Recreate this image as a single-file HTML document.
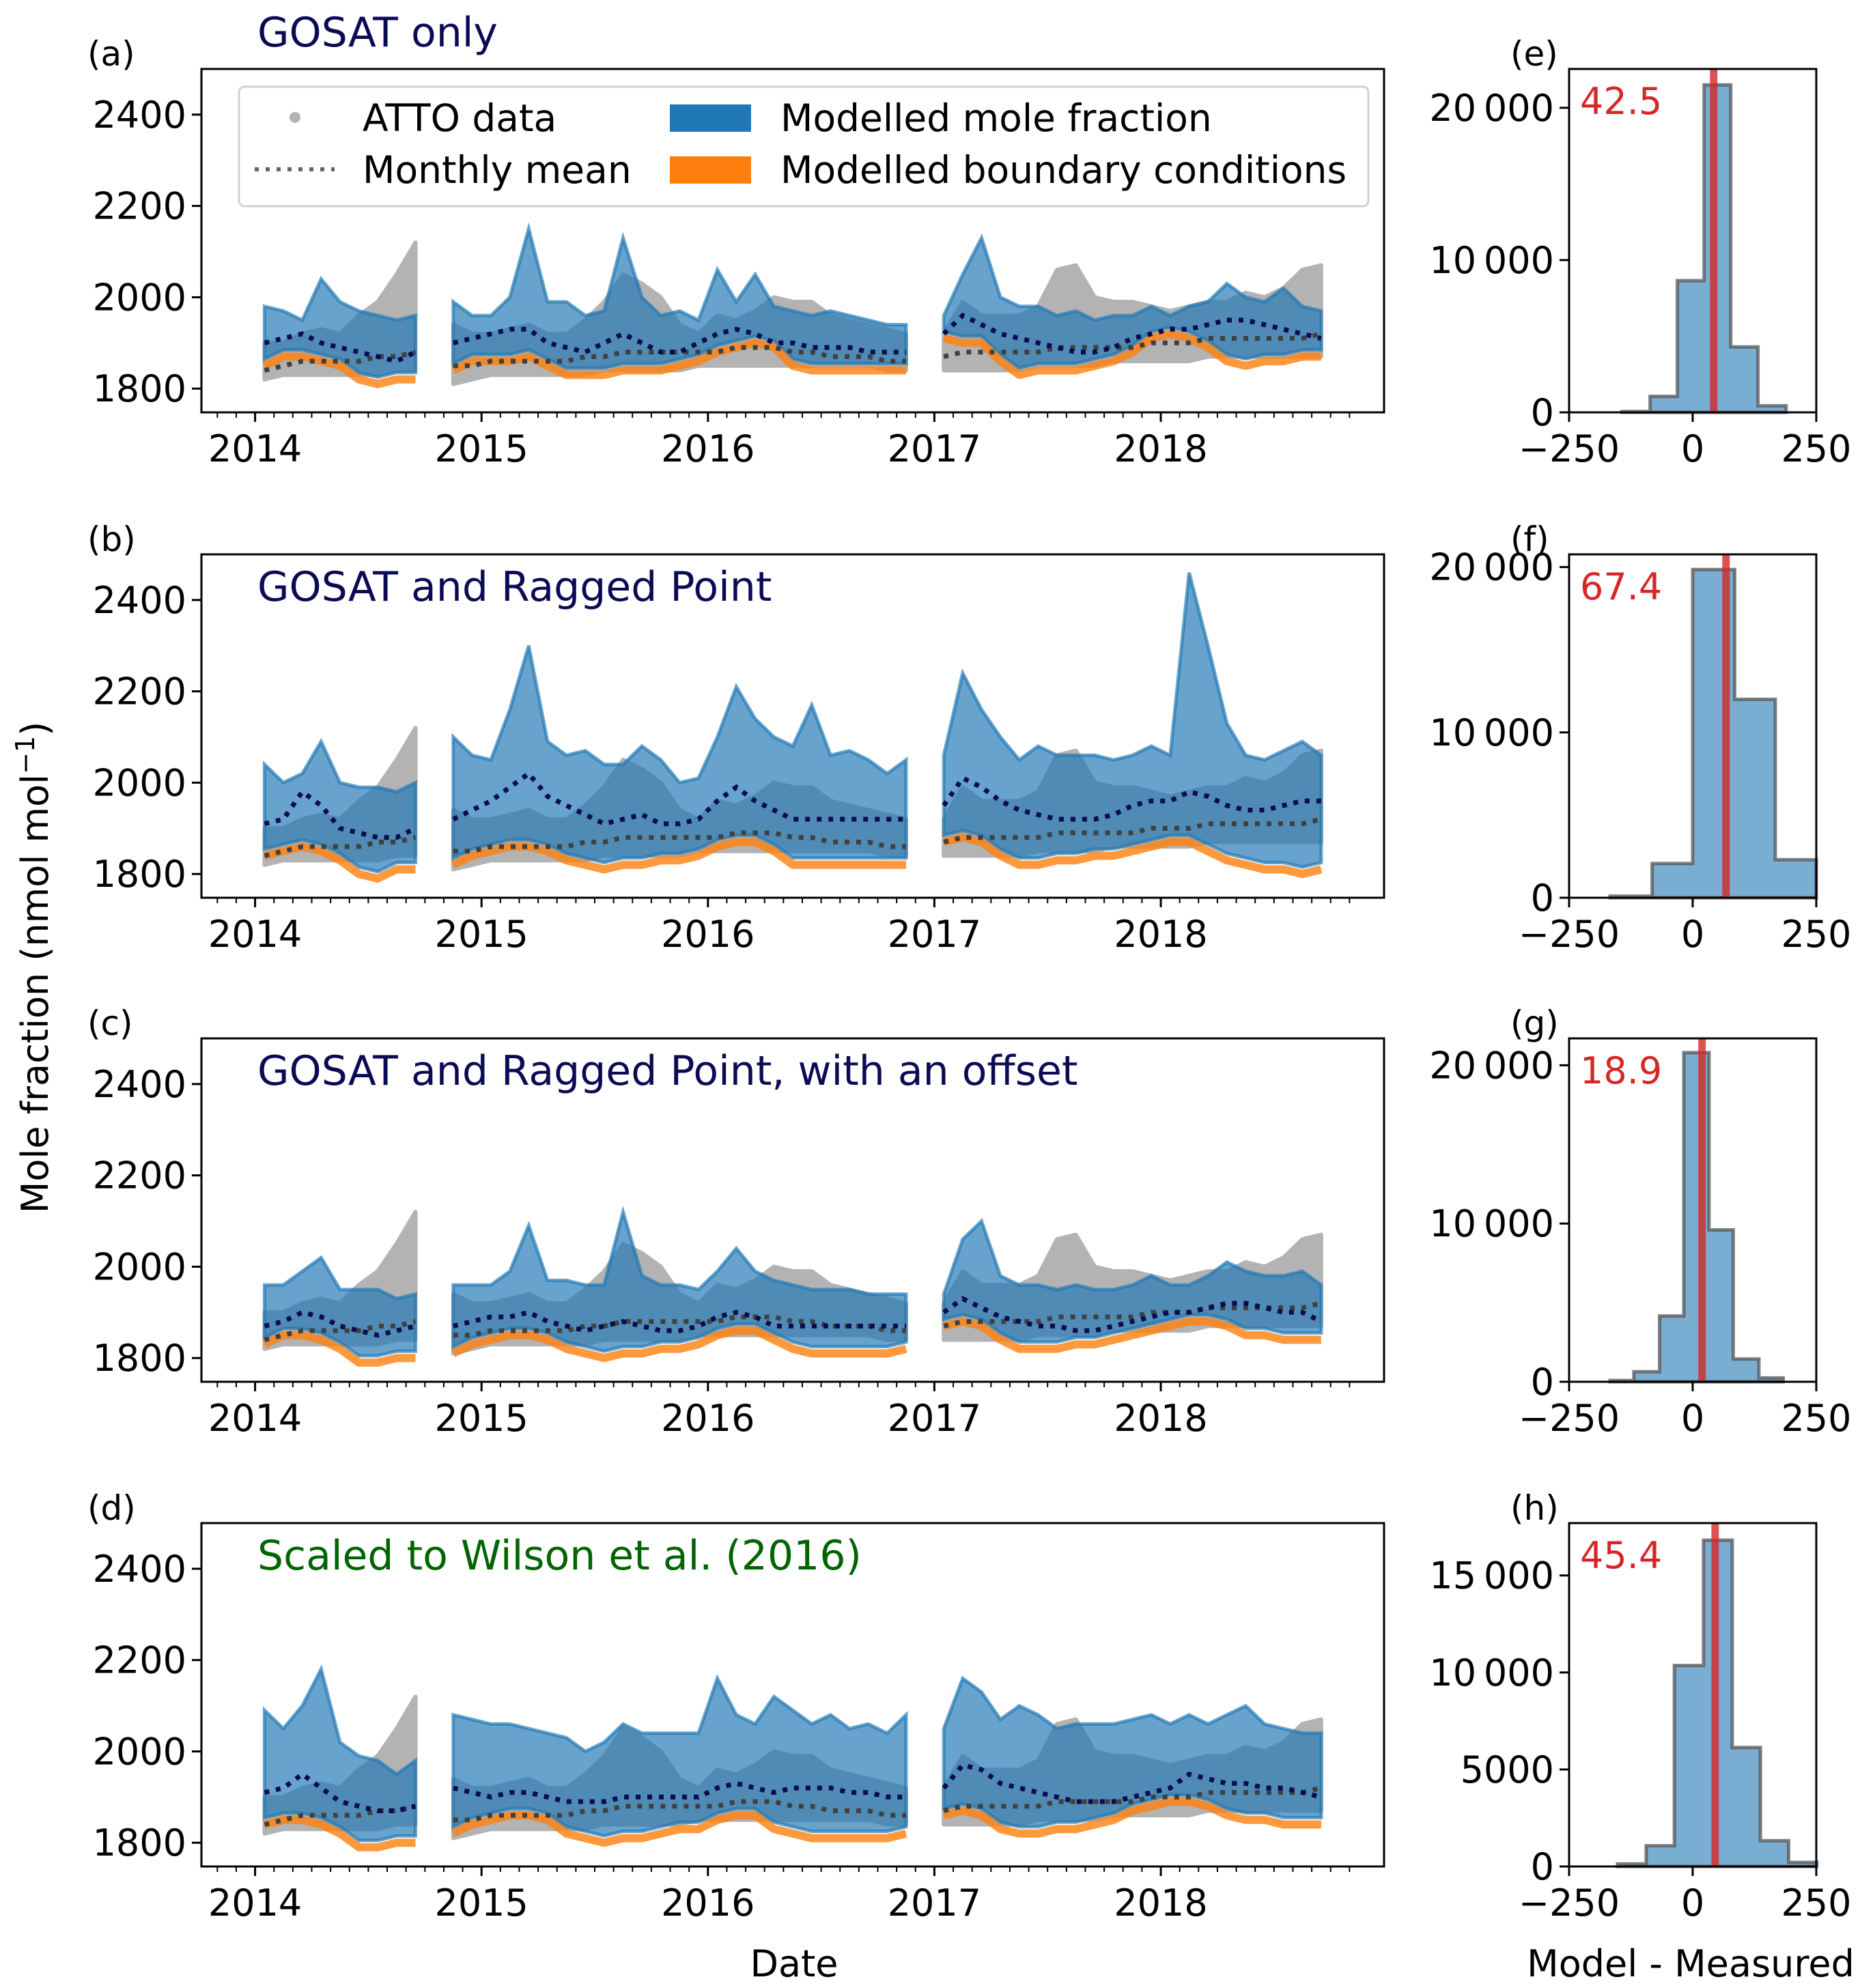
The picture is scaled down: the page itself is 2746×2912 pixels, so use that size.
<!DOCTYPE html>
<html><head><meta charset="utf-8">
<style>
html,body{margin:0;padding:0;background:#fff;}
svg{display:block;font-family:"DejaVu Sans","Liberation Sans",sans-serif;}
</style></head>
<body>
<svg id="fig" width="2746" height="2912" viewBox="0 0 2746 2912" xmlns="http://www.w3.org/2000/svg">
<rect width="2746" height="2912" fill="#fff"/>
<g id="root"></g>
<text x="70" y="1417" font-size="54" text-anchor="middle" transform="rotate(-90 70 1417)">Mole fraction (nmol mol<tspan dy="-20" font-size="38">−1</tspan><tspan dy="20">)</tspan></text>
<text x="1163" y="2895" font-size="54" text-anchor="middle">Date</text>
<text x="2476" y="2895" font-size="54" text-anchor="middle">Model - Measured</text>
</svg>
<script>
// ---- shared data (monthly, Jan 2014 .. Sep 2018; null = gap) ----
const obsHigh=[1900,1900,1920,1930,1920,1960,1990,2050,2120,null,1940,1920,
1920,1930,1940,1920,1920,1950,1990,2050,2030,2000,1940,1920,
1960,1950,1970,2000,1990,1990,1960,1950,1940,1930,1920,null,
1920,1990,1960,1960,1960,1980,2060,2070,2000,1990,1990,1980,
1970,1980,1990,1990,2010,2000,2020,2060,2070];
const obsLow=[1820,1830,1830,1830,1830,1830,1830,1840,1840,null,1810,1820,
1830,1830,1830,1830,1830,1830,1840,1840,1840,1840,1840,1850,
1850,1850,1850,1850,1850,1850,1850,1850,1850,1840,1840,null,
1840,1840,1840,1840,1840,1850,1850,1850,1850,1860,1860,1860,
1860,1860,1870,1870,1870,1870,1870,1870,1870];
const obsMean=[1840,1850,1860,1860,1860,1860,1870,1870,1880,null,1850,1850,
1860,1860,1860,1860,1860,1870,1870,1880,1880,1880,1880,1880,
1880,1890,1890,1890,1880,1880,1870,1870,1870,1860,1860,null,
1870,1880,1880,1880,1880,1880,1890,1890,1890,1890,1890,1900,
1900,1900,1910,1910,1910,1910,1910,1910,1920];
// ---- panel (a) GOSAT only ----
const highA=[1980,1970,1950,2040,1990,1970,1960,1950,1960,null,1990,1960,
1960,2000,2150,1990,1990,1960,1970,2130,2000,1960,1970,1950,
2060,1990,2050,1980,1970,1960,1970,1960,1950,1940,1940,null,
1960,2050,2130,2000,1980,1980,1960,1970,1950,1960,1960,1980,
1960,1980,1990,2030,2000,1990,2020,1980,1970];
const bcA=[1850,1870,1870,1860,1850,1820,1810,1820,1820,null,1840,1860,
1860,1860,1870,1850,1830,1830,1830,1840,1840,1840,1850,1860,
1880,1890,1900,1890,1850,1840,1840,1840,1840,1840,1840,null,
1910,1900,1900,1860,1830,1840,1840,1840,1850,1860,1880,1910,
1920,1910,1890,1860,1850,1860,1860,1870,1870];
const meanA=[1900,1910,1920,1900,1890,1880,1870,1860,1880,null,1900,1910,
1920,1930,1930,1900,1890,1880,1900,1920,1900,1880,1880,1900,
1920,1930,1920,1900,1900,1890,1890,1890,1880,1880,1880,null,
1920,1960,1940,1920,1910,1900,1890,1880,1880,1890,1910,1920,
1930,1930,1940,1950,1950,1940,1930,1920,1910];
// ---- panel (b) GOSAT and Ragged Point ----
const highB=[2040,2000,2020,2090,2000,1990,1990,1980,2000,null,2100,2060,
2050,2160,2300,2090,2060,2070,2040,2040,2080,2050,2000,2010,
2100,2210,2140,2100,2080,2170,2060,2070,2050,2020,2050,null,
2060,2240,2160,2100,2050,2080,2060,2060,2060,2050,2060,2080,
2060,2460,2300,2130,2060,2050,2070,2090,2060];
const bcB=[1840,1850,1860,1850,1830,1800,1790,1810,1810,null,1820,1840,
1850,1860,1860,1850,1830,1820,1810,1820,1820,1830,1830,1840,
1860,1870,1870,1850,1820,1820,1820,1820,1820,1820,1820,null,
1870,1880,1870,1840,1820,1820,1830,1830,1840,1840,1850,1860,
1870,1870,1850,1830,1820,1810,1810,1800,1810];
const meanB=[1910,1920,1980,1950,1900,1890,1880,1880,1900,null,1920,1940,
1960,1990,2020,1970,1950,1930,1910,1920,1930,1910,1910,1920,
1960,1990,1960,1940,1920,1920,1920,1920,1920,1920,1920,null,
1950,2010,1990,1960,1940,1930,1920,1920,1920,1930,1950,1960,
1960,1980,1970,1950,1940,1940,1950,1960,1960];
// ---- panel (c) with an offset ----
const highC=[1960,1960,1990,2020,1950,1950,1950,1930,1940,null,1960,1960,
1960,1990,2090,1970,1970,1960,1960,2120,1980,1960,1960,1950,
1990,2040,1990,1970,1960,1950,1950,1950,1940,1940,1940,null,
1940,2060,2100,1980,1960,1960,1950,1960,1950,1950,1960,1980,
1960,1960,1980,2010,1990,1980,1980,1990,1960];
const bcC=[1830,1850,1850,1840,1820,1790,1790,1800,1800,null,1810,1830,
1840,1850,1850,1840,1820,1810,1800,1810,1810,1820,1820,1830,
1850,1860,1860,1840,1820,1810,1810,1810,1810,1810,1820,null,
1870,1880,1870,1840,1820,1820,1820,1830,1830,1840,1850,1860,
1870,1880,1880,1870,1850,1850,1840,1840,1840];
const meanC=[1870,1880,1900,1890,1870,1860,1850,1860,1870,null,1870,1880,
1890,1890,1900,1880,1870,1860,1870,1880,1870,1860,1860,1870,
1890,1900,1890,1870,1870,1870,1870,1870,1870,1870,1870,null,
1900,1930,1910,1890,1880,1870,1870,1860,1860,1870,1880,1890,
1900,1900,1910,1920,1920,1910,1900,1900,1880];
// ---- panel (d) Scaled to Wilson ----
const highD=[2090,2050,2100,2180,2020,1990,1980,1950,1980,null,2080,2070,
2060,2060,2050,2040,2030,2000,2020,2060,2040,2040,2040,2040,
2160,2080,2060,2120,2090,2060,2080,2050,2060,2040,2080,null,
2050,2160,2130,2070,2100,2080,2050,2060,2060,2060,2070,2080,
2060,2080,2060,2080,2100,2060,2050,2040,2040];
const bcD=[1840,1850,1850,1840,1820,1790,1790,1800,1800,null,1820,1840,
1850,1860,1860,1850,1820,1810,1800,1810,1810,1820,1830,1830,
1850,1860,1860,1830,1820,1810,1810,1810,1810,1810,1820,null,
1860,1870,1860,1830,1820,1820,1830,1830,1840,1850,1870,1880,
1890,1890,1880,1860,1850,1850,1840,1840,1840];
const meanD=[1910,1920,1950,1920,1890,1880,1870,1870,1880,null,1920,1910,
1900,1910,1910,1900,1890,1890,1890,1900,1900,1900,1900,1900,
1920,1930,1920,1910,1920,1920,1920,1910,1910,1900,1900,null,
1920,1970,1960,1930,1920,1910,1900,1890,1890,1890,1900,1910,
1920,1950,1940,1930,1930,1920,1920,1910,1900];
// ---- histograms ----
const edgesE=[-143,-86,-31,23,77,132,189];
const countsE=[60,1050,8650,21500,4300,430];
const edgesF=[-167,-82,0,85,167,250];
const countsF=[100,2070,19850,12000,2300];
const edgesG=[-167,-119,-67,-18,33,82,134,183];
const countsG=[80,640,4160,20800,9600,1440,240];
const edgesH=[-152,-94,-37,22,80,137,194,251];
const countsH=[130,1070,10360,16820,6130,1330,210];
const meanBias=[42.5,67.4,18.9,45.4];
const yTicksMain=[1800,2000,2200,2400];
const yearTicks=[2014,2015,2016,2017,2018];
const histXTicks=[-250,0,250];
const histYTicksE=[0,10000,20000];
const histYTicksH=[0,5000,10000,15000];

const NS="http://www.w3.org/2000/svg";
const root=document.getElementById('root');
function mk(tag,attrs,parent){const e=document.createElementNS(NS,tag);for(const k in attrs)e.setAttribute(k,attrs[k]);(parent||root).appendChild(e);return e;}
function txt(s,attrs,parent){const e=mk('text',attrs,parent);e.textContent=s;return e;}

const L=295,R=2027,T0=2013.763,T1=2018.986,YMIN=1748,YMAX=2500,PH=503;
const tops=[101,812,1521,2231];
const HL=2298,HR=2660;
const FS=54;
function xs(t){return L+(t-T0)*(R-L)/(T1-T0);}
function ys(v,top){return top+PH-(v-YMIN)/(YMAX-YMIN)*PH;}
function tOf(i){return 2014+(i+0.5)/12;}
function segments(arr){const s=[];let cur=[];arr.forEach((v,i)=>{if(v===null){if(cur.length)s.push(cur);cur=[];}else cur.push(i);});if(cur.length)s.push(cur);return s;}
function fmt(n){const s=String(Math.abs(n));let o=s.length>4?s.slice(0,s.length-3)+'\u2009'+s.slice(-3):s;return (n<0?'\u2212':'')+o;}

const panels=[
 {high:highA,bc:bcA,mean:meanA,title:'GOSAT only',tc:'#0b0b55',letter:'(a)',hl:'(e)',ed:edgesE,ct:countsE,hmax:22550,hyt:histYTicksE,titleOutside:true},
 {high:highB,bc:bcB,mean:meanB,title:'GOSAT and Ragged Point',tc:'#0b0b55',letter:'(b)',hl:'(f)',ed:edgesF,ct:countsF,hmax:20770,hyt:histYTicksE},
 {high:highC,bc:bcC,mean:meanC,title:'GOSAT and Ragged Point, with an offset',tc:'#0b0b55',letter:'(c)',hl:'(g)',ed:edgesG,ct:countsG,hmax:21700,hyt:histYTicksE},
 {high:highD,bc:bcD,mean:meanD,title:'Scaled to Wilson et al. (2016)',tc:'#006400',letter:'(d)',hl:'(h)',ed:edgesH,ct:countsH,hmax:17700,hyt:histYTicksH}
];

panels.forEach((p,pi)=>{
 const top=tops[pi],bot=top+PH;
 const g=mk('g',{});
 
 
 const segs=segments(p.high);
 segs.forEach(seg=>{
  let d='';seg.forEach((i,k)=>{d+=(k?'L':'M')+xs(tOf(i)).toFixed(1)+','+ys(obsHigh[i],top).toFixed(1);});
  seg.slice().reverse().forEach(i=>{d+='L'+xs(tOf(i)).toFixed(1)+','+ys(obsLow[i],top).toFixed(1);});
  const e=mk('path',{d:d+'Z',fill:'#b3b3b3',stroke:'#b3b3b3','stroke-width':6,'stroke-linejoin':'round'},g);
  
  
 });
 segs.forEach(seg=>{
  let d='';seg.forEach((i,k)=>{d+=(k?'L':'M')+xs(tOf(i)).toFixed(1)+','+ys(p.high[i],top).toFixed(1);});
  seg.slice().reverse().forEach(i=>{d+='L'+xs(tOf(i)).toFixed(1)+','+ys(p.bc[i]+15,top).toFixed(1);});
  const e=mk('path',{d:d+'Z',fill:'#1f77b4','fill-opacity':0.68,stroke:'#1f77b4','stroke-opacity':0.68,'stroke-width':5,'stroke-linejoin':'miter'},g);
  
  
 });
 segs.forEach(seg=>{
  let d='';seg.forEach((i,k)=>{d+=(k?'L':'M')+xs(tOf(i)).toFixed(1)+','+ys(p.bc[i],top).toFixed(1);});
  const e=mk('path',{d:d,fill:'none',stroke:'#ff7f0e','stroke-opacity':0.8,'stroke-width':12,'stroke-linejoin':'round'},g);
  
  
 });
 segs.forEach(seg=>{
  let d='';seg.forEach((i,k)=>{d+=(k?'L':'M')+xs(tOf(i)).toFixed(1)+','+ys(obsMean[i],top).toFixed(1);});
  const e=mk('path',{d:d,fill:'none',stroke:'#404040','stroke-width':7,'stroke-dasharray':'7 10'},g);
  
  
  let d2='';seg.forEach((i,k)=>{d2+=(k?'L':'M')+xs(tOf(i)).toFixed(1)+','+ys(p.mean[i],top).toFixed(1);});
  const e2=mk('path',{d:d2,fill:'none',stroke:'#0b0b50','stroke-width':7,'stroke-dasharray':'7 10'},g);
  
  
 });
 const fr=mk('rect',{x:L,y:top,width:R-L,height:PH,fill:'none',stroke:'#000','stroke-width':3},g);
 
 
 yTicksMain.forEach(v=>{
  const y=ys(v,top);
  mk('line',{x1:L-14,x2:L,y1:y,y2:y,stroke:'#000','stroke-width':3},g);
  const t=txt(String(v),{x:L-22,y:y+19,'font-size':FS,'text-anchor':'end'},g);
  
  
 });
 for(let m=-2;m<=58;m++){const t=2014+m/12;const x=xs(t);if(x<L||x>R)continue;
  const major=(m%12===0);
  mk('line',{x1:x,x2:x,y1:bot,y2:bot+(major?14:8),stroke:'#000','stroke-width':major?3:2},g);}
 yearTicks.forEach(yr=>{
  const t=txt(String(yr),{x:xs(yr),y:bot+72,'font-size':FS,'text-anchor':'middle'},g);
  
  
 });
 const tt=txt(p.title,{x:377,y:p.titleOutside?top-33:top+68,'font-size':60,fill:p.tc},g);
 
 
 const lt=txt(p.letter,{x:128,y:top-5,'font-size':50},g);
 
 

 const hg=mk('g',{});
 
 
 const hx=v=>HL+(v+250)/500*(HR-HL);
 const hy=c=>bot-c/p.hmax*PH;
 let d='M'+hx(p.ed[0])+','+bot;
 p.ct.forEach((c,k)=>{d+='L'+hx(p.ed[k]).toFixed(1)+','+hy(c).toFixed(1)+'L'+hx(p.ed[k+1]).toFixed(1)+','+hy(c).toFixed(1);});
 d+='L'+hx(p.ed[p.ed.length-1]).toFixed(1)+','+bot+'Z';
 const hp=mk('path',{d:d,fill:'#1f77b4','fill-opacity':0.6,stroke:'#555','stroke-opacity':0.75,'stroke-width':5},hg);
 
 
 const ml=mk('line',{x1:hx(meanBias[pi]),x2:hx(meanBias[pi]),y1:top,y2:bot,stroke:'#d62728','stroke-opacity':0.8,'stroke-width':11},hg);
 
 
 mk('rect',{x:HL,y:top,width:HR-HL,height:PH,fill:'none',stroke:'#000','stroke-width':3},hg);
 const mt=txt(meanBias[pi].toFixed(1),{x:HL+16,y:top+66,'font-size':FS,fill:'#d62728'},hg);
 
 
 p.hyt.forEach(v=>{const y=hy(v);
  mk('line',{x1:HL-14,x2:HL,y1:y,y2:y,stroke:'#000','stroke-width':3},hg);
  const t=txt(fmt(v),{x:HL-22,y:y+19,'font-size':FS,'text-anchor':'end'},hg);
  
  
 });
 histXTicks.forEach(v=>{const x=hx(v);
  mk('line',{x1:x,x2:x,y1:bot,y2:bot+14,stroke:'#000','stroke-width':3},hg);
  const t=txt(fmt(v),{x:x,y:bot+72,'font-size':FS,'text-anchor':'middle'},hg);
  
  
 });
 const hlt=txt(p.hl,{x:2212,y:top-5,'font-size':50},hg);
 
 
});

const lg=mk('g',{});


mk('rect',{x:350,y:127,width:1654,height:175,rx:8,fill:'#fff','fill-opacity':0.8,stroke:'#d0d0d0','stroke-width':3},lg);
mk('circle',{cx:432,cy:172,r:8,fill:'#b3b3b3'},lg);
txt('ATTO data',{x:531,y:192,'font-size':55},lg);
mk('line',{x1:373,x2:490,y1:248,y2:248,stroke:'#666','stroke-width':6,'stroke-dasharray':'6 10'},lg);
txt('Monthly mean',{x:531,y:268,'font-size':55},lg);
mk('rect',{x:981,y:153,width:119,height:40,fill:'#1f77b4'},lg);
txt('Modelled mole fraction',{x:1143,y:192,'font-size':55},lg);
mk('rect',{x:981,y:229,width:119,height:40,fill:'#ff7f0e'},lg);
txt('Modelled boundary conditions',{x:1143,y:268,'font-size':55},lg);
</script>
</body></html>
